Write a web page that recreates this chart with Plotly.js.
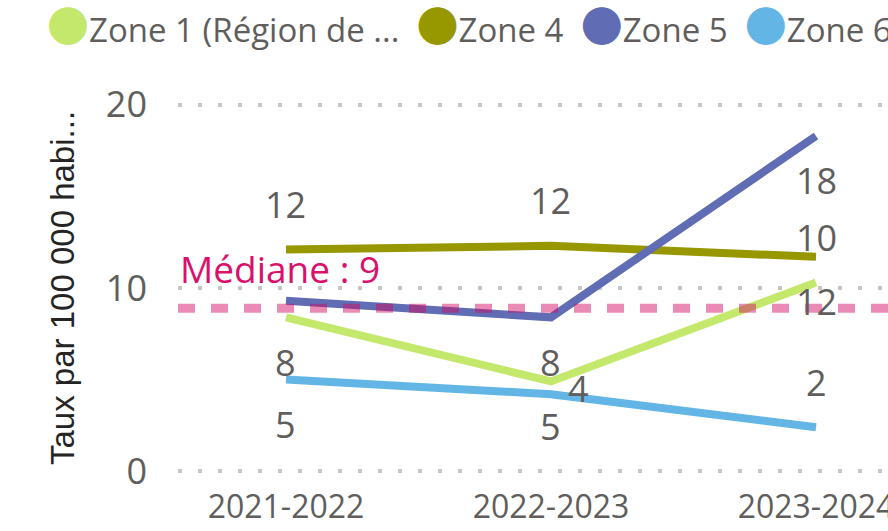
<!DOCTYPE html>
<html><head><meta charset="utf-8">
<script src="https://cdn.plot.ly/plotly-3.0.1.min.js"></script>
<style>html,body{margin:0;padding:0;background:#fff;overflow:hidden}#chart{width:888px;height:531px}</style>
</head><body><div id="chart"></div>
<script>
// ---- data ----
const categories = ['2021-2022', '2022-2023', '2023-2024'];
const seriesNames = ['Zone 1 (Région de ...', 'Zone 4', 'Zone 5', 'Zone 6'];
const zone1 = [8.4, 4.9, 10.3];
const zone4 = [12.1, 12.3, 11.7];
const zone5 = [9.3, 8.4, 18.3];
const zone6 = [5.0, 4.2, 2.4];
const medianValue = 8.9;
const yTickValues = [0, 10, 20];
const yTitleText = 'Taux par 100 000 habi...';

// ---- style ----
const colors = ['#C4E86C', '#979700', '#606CB3', '#62B5E5'];
const labelPlacement = [
  ['below', 'below', 'above'],
  ['above', 'above', 'below'],
  ['hide', 'below', 'below'],
  ['below', 'right', 'above']
];
const seriesValues = [zone1, zone4, zone5, zone6];
const grey = '#605E5C';
const mainFont = 'Open Sans, Noto Sans, sans-serif';

const traces = seriesValues.map((vals, i) => ({
  type: 'scatter', mode: 'lines', x: categories, y: vals, name: seriesNames[i],
  line: {color: colors[i], width: 8}, showlegend: false, hoverinfo: 'skip'
}));

const annotations = [];
seriesValues.forEach((vals, i) => {
  vals.forEach((v, j) => {
    const p = labelPlacement[i][j];
    if (p === 'hide') return;
    const a = {x: categories[j], y: v, xref: 'x', yref: 'y', text: String(Math.round(v)),
      showarrow: false, font: {family: mainFont, size: 36, color: grey}, yanchor: 'middle'};
    if (p === 'above') a.yshift = 45;
    else if (p === 'below') a.yshift = -45;
    else { a.xshift = 28; a.yshift = 6; }
    annotations.push(a);
  });
});

annotations.push({
  x: 0, xref: 'paper', xanchor: 'left', y: medianValue, yref: 'y', yanchor: 'middle', yshift: 40,
  text: 'Médiane : ' + Math.round(medianValue), showarrow: false,
  font: {family: mainFont, size: 37, color: '#D9116B'}
});

annotations.push({
  x: -0.187, xref: 'paper', xanchor: 'left', y: 1.214, yref: 'paper', yanchor: 'middle',
  showarrow: false, align: 'left',
  text: seriesNames.map((n, i) => `<span style="color:${colors[i]};font-family:'Noto Sans CJK JP';font-size:42px">●</span>${n}`).join('\u00A0\u00A0'),
  font: {family: mainFont, size: 33, color: grey}
});

const layout = {
  width: 888, height: 531,
  margin: {l: 178, r: 0, t: 103, b: 58},
  paper_bgcolor: '#fff', plot_bgcolor: '#fff',
  showlegend: false,
  xaxis: {
    type: 'category', range: [-0.4075, 2.2717], showgrid: false, zeroline: false, showline: false,
    ticks: '', tickfont: {family: mainFont, size: 32, color: grey}, ticklabelstandoff: 12, automargin: false
  },
  yaxis: {
    range: [-0.1, 20.1], tickvals: yTickValues, showgrid: true, gridcolor: '#C8C6C4', gridwidth: 4,
    griddash: '4px,16px', zeroline: false, showline: false, ticks: '',
    tickfont: {family: mainFont, size: 36, color: grey}, ticklabelstandoff: 30, automargin: false,
    title: {text: yTitleText, font: {family: 'Liberation Sans, Arial, sans-serif', size: 33, color: '#252423'}, standoff: 21}
  },
  shapes: [{
    type: 'line', xref: 'paper', x0: 0, x1: 1, yref: 'y', y0: medianValue, y1: medianValue,
    line: {color: 'rgba(208,12,100,0.48)', width: 9, dash: '17px,16px'}, layer: 'above'
  }],
  annotations: annotations
};

Plotly.newPlot('chart', traces, layout, {staticPlot: true, displayModeBar: false});
</script></body></html>
